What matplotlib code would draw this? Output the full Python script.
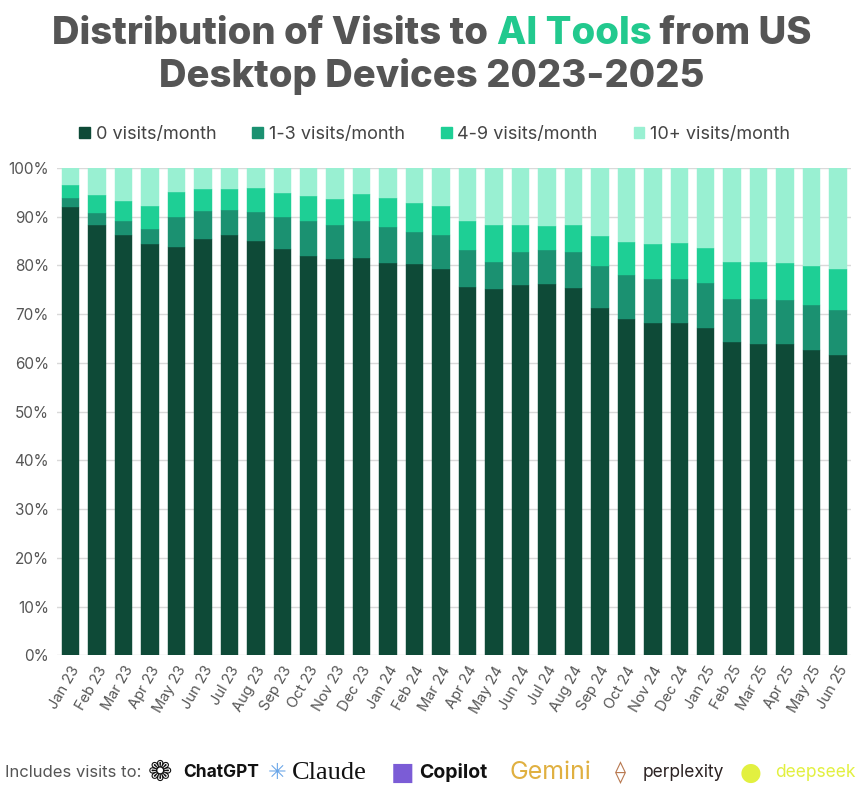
import matplotlib
matplotlib.use("Agg")
import matplotlib.pyplot as plt
import numpy as np
from matplotlib.patches import Patch

months = ["Jan 23","Feb 23","Mar 23","Apr 23","May 23","Jun 23","Jul 23","Aug 23","Sep 23",
          "Oct 23","Nov 23","Dec 23","Jan 24","Feb 24","Mar 24","Apr 24","May 24","Jun 24",
          "Jul 24","Aug 24","Sep 24","Oct 24","Nov 24","Dec 24","Jan 25","Feb 25","Mar 25",
          "Apr 25","May 25","Jun 25"]
# cumulative tops (percent)
top_0 = [92.0,88.2,86.2,84.3,83.8,85.5,86.2,84.9,83.3,82.0,81.3,81.6,80.4,80.3,79.3,75.6,75.2,76.0,
         76.1,75.3,71.3,68.9,68.2,68.2,67.2,64.3,63.8,63.9,62.7,61.7]
top_13 = [93.9,90.8,89.2,87.5,90.0,91.1,91.4,91.0,89.9,89.0,88.2,89.0,87.9,86.9,86.3,83.2,80.6,82.7,
          83.1,82.7,79.8,78.0,77.3,77.3,76.3,73.1,73.0,72.8,71.9,70.8]
top_49 = [96.5,94.4,93.2,92.1,95.1,95.7,95.7,95.9,94.9,94.3,93.6,94.6,93.8,92.7,92.1,89.2,88.2,88.2,
          88.1,88.2,86.0,84.7,84.3,84.5,83.6,80.7,80.7,80.4,79.9,79.2]

v0 = np.array(top_0)
v13 = np.array(top_13) - v0
v49 = np.array(top_49) - np.array(top_13)
v10 = 100 - np.array(top_49)

series = [("0 visits/month", v0, "#0e4a37"),
          ("1-3 visits/month", v13, "#1b9171"),
          ("4-9 visits/month", v49, "#1ecf95"),
          ("10+ visits/month", v10, "#99f0d2")]

plt.rcParams['font.family'] = ['Inter', 'DejaVu Sans']
fig = plt.figure(figsize=(8.64, 8.11), dpi=100)
ax = fig.add_axes([0.0663, 0.192, 0.919, 0.601])

x = np.arange(len(months))
bottom = np.zeros(len(months))
for name, vals, col in series:
    ax.bar(x, vals, bottom=bottom, width=0.66, color=col, edgecolor=col, linewidth=0.3, zorder=3)
    bottom += vals

ax.set_xlim(-0.5, len(months) - 0.5)
ax.set_ylim(0, 100)
ax.set_yticks(np.arange(0, 101, 10))
ax.set_yticklabels([f"{v}%" for v in range(0, 101, 10)], color="#555555", fontsize=11)
ax.set_xticks(x)
ax.set_xticklabels(months, rotation=60, ha="right", rotation_mode="anchor", color="#555555", fontsize=10.5)
ax.tick_params(axis="both", length=0, pad=6)
ax.grid(axis="y", color="#d9d9d9", linewidth=1, zorder=0)
for s in ax.spines.values():
    s.set_visible(False)

# Title
renderer = fig.canvas.get_renderer()
title_y1 = 0.958
parts = [("Distribution of Visits to ", "#555555"), ("AI Tools", "#22c98e"), (" from US", "#555555")]
widths = []
objs = []
for s, c in parts:
    t = fig.text(0, title_y1, s, fontsize=27.5, fontweight="heavy", color=c, va="center", ha="left")
    objs.append(t)
    widths.append(t.get_window_extent(renderer).width)
total = sum(widths)
xs = (fig.bbox.width - total) / 2
for t, w in zip(objs, widths):
    t.set_x(xs / fig.bbox.width)
    xs += w
fig.text(0.5, 0.906, "Desktop Devices 2023-2025", fontsize=27.5, fontweight="heavy", color="#555555",
         ha="center", va="center")

handles = [Patch(facecolor=c, edgecolor=c, label=n) for n, _, c in series]
fig.legend(handles=handles, loc="center", bbox_to_anchor=(0.503, 0.834), ncol=4, frameon=False,
           fontsize=13, handlelength=0.6, handleheight=0.6, handletextpad=0.3, columnspacing=2.0,
           labelcolor="#444444")

# Footer
fy = 0.047
fig.text(0.006, fy, "Includes visits to:", fontsize=12, color="#555555", va="center")
fig.text(0.171, fy, "❁", fontsize=21, color="#111111", va="center", family="DejaVu Sans")
fig.text(0.212, fy, "ChatGPT", fontsize=12.5, fontweight="bold", color="#111111", va="center")
fig.text(0.310, fy, "✳", fontsize=16, color="#6aa6e8", va="center", family="DejaVu Sans")
fig.text(0.338, fy, "Claude", fontsize=19, color="#111111", va="center", family="Liberation Serif")
fig.text(0.452, fy, "■", fontsize=18, color="#7b5cd6", va="center", family="DejaVu Sans")
fig.text(0.485, fy, "Copilot", fontsize=14, fontweight="bold", color="#111111", va="center")
fig.text(0.590, fy, "Gemini", fontsize=18, color="#e0b040", va="center")
fig.text(0.712, fy, "⟠", fontsize=16, color="#b97a52", va="center", family="DejaVu Sans")
fig.text(0.744, fy, "perplexity", fontsize=12.5, color="#2b2222", va="center")
fig.text(0.856, fy, "●", fontsize=18, color="#e2f040", va="center", family="DejaVu Sans")
fig.text(0.897, fy, "deepseek", fontsize=12.5, color="#e2f040", va="center")

fig.savefig("out.png", dpi=100, facecolor="white")
